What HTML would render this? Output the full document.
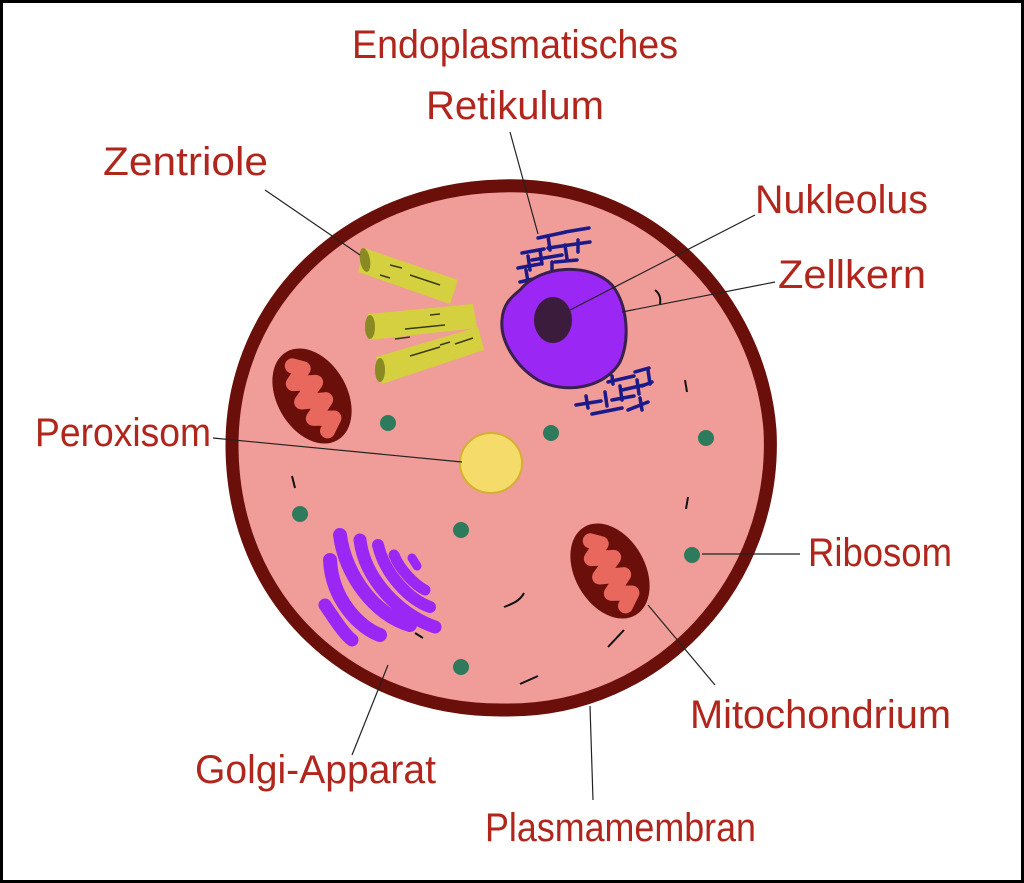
<!DOCTYPE html>
<html><head><meta charset="utf-8"><style>
html,body{margin:0;padding:0;background:#fff;}
svg{display:block;}
text{font-family:"Liberation Sans",sans-serif;fill:#b0251c;font-size:40px;}
</style></head><body>
<svg width="1024" height="883" viewBox="0 0 1024 883" xmlns="http://www.w3.org/2000/svg">
<rect x="1.5" y="1.5" width="1021" height="880" fill="#fff" stroke="#000" stroke-width="3"/>
<path d="M500,186 C650,180 760,300 770,430 C778,580 660,712 505,710 C350,712 232,600 232,445 C232,300 350,190 500,186 Z" fill="#f09c98" stroke="#6b0f0a" stroke-width="13"/>
<g stroke="#111" stroke-width="2" fill="none">
<path d="M292,476 l3,12"/><path d="M688,497 l-2,12"/><path d="M685,380 l2,12"/>
<path d="M655,290 c4,3 6,8 5,14"/><path d="M504,607 c8,-3 16,-6 20,-14"/>
<path d="M608,647 l16,-17"/><path d="M520,684 l18,-8"/><path d="M415,633 l8,5"/>
</g>
<g fill="#d4d040">
<path d="M364,248 L458,280 L450,304 L358,272 Z"/>
<path d="M368,314 L473,304 L477,328 L370,340 Z"/>
<path d="M376,357 L478,327 L484,350 L382,384 Z"/>
</g>
<g fill="#8a8a25"><ellipse cx="365" cy="260" rx="5" ry="12" transform="rotate(-10 365 260)"/><ellipse cx="370" cy="327" rx="5" ry="12"/><ellipse cx="380" cy="370" rx="5" ry="12"/></g>
<g stroke="#3a3a10" stroke-width="1.5"><path d="M390,265 l12,3 M410,275 l30,10 M380,275 l10,3 M405,329 l40,-4 M430,315 l10,-1 M395,339 l15,-2 M410,356 l30,-9 M440,345 l10,-3 M455,344 l18,-6"/></g>
<g stroke="#1a1a8a" stroke-width="3.5" fill="none" stroke-linecap="round">
<path d="M538,238 l28,-6 M565,232 l24,-4 M548,248 l42,-6 M518,268 l22,-4 M532,260 l30,-5 M522,253 l22,-4 M520,282 l18,-4 M555,262 l22,-2"/>
<path d="M548,236 l2,14 M540,250 l2,14 M528,256 l2,14 M565,245 l2,14 M578,240 l0,12 M552,262 l0,12 M526,270 l2,12"/>
<path d="M576,405 l25,-4 M592,414 l30,-6 M612,400 l22,-4 M622,390 l22,-5 M608,382 l26,-6 M642,386 l10,-4 M628,410 l20,-8 M635,372 l14,-4"/>
<path d="M586,396 l2,12 M605,392 l2,14 M620,386 l2,14 M637,380 l2,14 M648,370 l2,14 M612,376 l1,8 M640,398 l2,12"/>
</g>
<path d="M520,290 C540,265 590,262 612,285 C628,305 630,340 620,362 C605,388 565,395 538,380 C515,366 500,340 502,320 C503,305 510,298 520,290 Z" fill="#9b27f5" stroke="#3a2050" stroke-width="3"/>
<ellipse cx="553" cy="320" rx="19" ry="23" fill="#3c1c3c"/>
<g transform="rotate(-30 312 396)"><ellipse cx="312" cy="396" rx="35" ry="51" fill="#6b0f0a"/>
<polyline points="310,360 318,368 302,376 322,386 300,396 322,406 302,416 320,426 308,434" fill="none" stroke="#e8685e" stroke-width="15" stroke-linejoin="round" stroke-linecap="round"/></g>
<g transform="rotate(-30 610 571)"><ellipse cx="610" cy="571" rx="35" ry="51" fill="#6b0f0a"/>
<polyline points="608,535 616,543 600,551 620,561 598,571 620,581 600,591 618,601 606,609" fill="none" stroke="#e8685e" stroke-width="15" stroke-linejoin="round" stroke-linecap="round"/></g>
<ellipse cx="491" cy="463" rx="31" ry="30" fill="#f5dc6a" stroke="#d4b030" stroke-width="2"/>
<g fill="#2d7a5c"><circle cx="388" cy="423" r="8"/><circle cx="551" cy="433" r="8"/><circle cx="706" cy="438" r="8"/><circle cx="300" cy="514" r="8"/><circle cx="461" cy="530" r="8"/><circle cx="692" cy="555" r="8"/><circle cx="461" cy="667" r="8"/></g>
<g stroke="#9b27f5" stroke-linecap="round" fill="none">
<path d="M325,605 C335,620 345,635 352,640" stroke-width="13"/>
<path d="M330,560 C332,600 360,628 380,635" stroke-width="14"/>
<path d="M340,535 C345,575 375,615 410,625" stroke-width="14"/>
<path d="M360,540 C365,580 400,615 435,627" stroke-width="13"/>
<path d="M378,545 C385,575 410,600 430,607" stroke-width="12"/>
<path d="M394,555 C400,570 415,585 425,590" stroke-width="11"/>
<path d="M412,558 l5,8" stroke-width="9"/>
</g>
<g stroke="#222" stroke-width="1.2">
<line x1="265" y1="190" x2="360" y2="255"/>
<line x1="510" y1="132" x2="538" y2="234"/>
<line x1="755" y1="215" x2="570" y2="310"/>
<line x1="775" y1="282" x2="622" y2="312"/>
<line x1="213" y1="438" x2="462" y2="462"/>
<line x1="702" y1="554" x2="800" y2="554"/>
<line x1="648" y1="605" x2="715" y2="685"/>
<line x1="388" y1="665" x2="352" y2="755"/>
<line x1="590" y1="706" x2="593" y2="800"/>
</g>
<text x="352" y="58" textLength="326" lengthAdjust="spacingAndGlyphs">Endoplasmatisches</text>
<text x="426" y="119" textLength="178" lengthAdjust="spacingAndGlyphs">Retikulum</text>
<text x="103" y="175" textLength="165" lengthAdjust="spacingAndGlyphs">Zentriole</text>
<text x="755" y="213" textLength="173" lengthAdjust="spacingAndGlyphs">Nukleolus</text>
<text x="778" y="288" textLength="148" lengthAdjust="spacingAndGlyphs">Zellkern</text>
<text x="35" y="446" textLength="176" lengthAdjust="spacingAndGlyphs">Peroxisom</text>
<text x="808" y="566" textLength="144" lengthAdjust="spacingAndGlyphs">Ribosom</text>
<text x="690" y="728" textLength="261" lengthAdjust="spacingAndGlyphs">Mitochondrium</text>
<text x="195" y="783" textLength="241" lengthAdjust="spacingAndGlyphs">Golgi-Apparat</text>
<text x="485" y="841" textLength="271" lengthAdjust="spacingAndGlyphs">Plasmamembran</text>
</svg>
</body></html>
